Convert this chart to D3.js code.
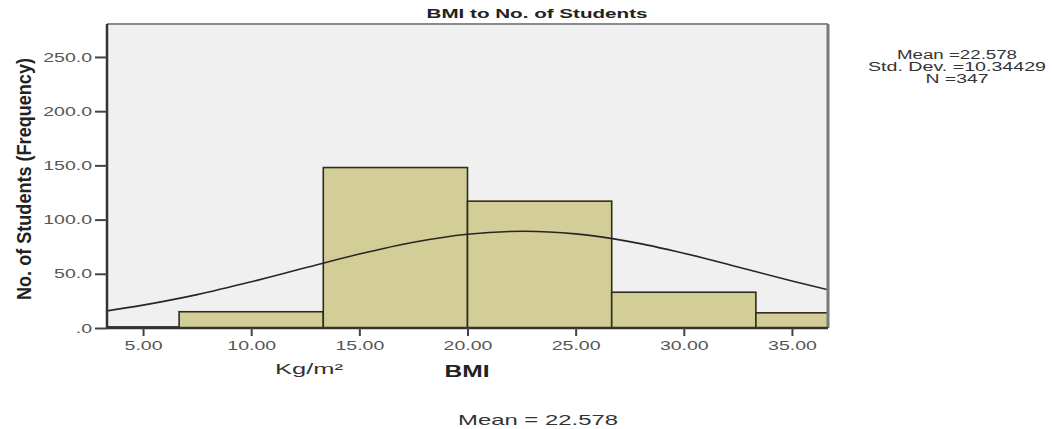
<!DOCTYPE html>
<html>
<head>
<meta charset="utf-8">
<script src="https://cdn.jsdelivr.net/npm/d3@7"></script>
<style>
  body { margin: 0; background: #fff; }
  text { font-family: Arial, "Liberation Sans", sans-serif; }
</style>
</head>
<body>
<div id="chart"></div>
<script>
// histogram bins (BMI) and counts
const binEdges = [0, 6.667, 13.333, 20, 26.667, 33.333, 40];
const binCounts = [1, 15, 148, 117, 33, 14];

// fitted normal curve
const curveX = [3.33, 5, 7.5, 10, 12.5, 15, 17.5, 20, 22.58, 25, 27.5, 30, 32.5, 35, 36.67];
const curveY = [15.8, 21.1, 30.8, 42.6, 55.5, 68.2, 79.1, 86.5, 89.2, 86.8, 79.7, 69.0, 56.3, 43.4, 35.3];

const xTicks = [5, 10, 15, 20, 25, 30, 35];
const yTicks = [0, 50, 100, 150, 200, 250];

const statLines = ['Mean =22.578', 'Std. Dev. =10.34429', 'N =347'];

const width = 1052, height = 429;
const plot = { left: 107, top: 24, right: 828, bottom: 328 };

const svg = d3.select('#chart')
    .append('svg')
    .attr('width', width)
    .attr('height', height);

const x = d3.scaleLinear().domain([3.333, 36.667]).range([plot.left, plot.right]);
const y = d3.scaleLinear().domain([0, 280.4]).range([plot.bottom, plot.top]);

// the source image is stretched sideways, so the text is too
function stretch(sel, k) {
    sel.each(function () {
        const w = this.getComputedTextLength();
        d3.select(this).attr('textLength', w * k).attr('lengthAdjust', 'spacingAndGlyphs');
    });
}

svg.append('defs').append('clipPath')
    .attr('id', 'plotClip')
    .append('rect')
    .attr('x', plot.left)
    .attr('y', plot.top)
    .attr('width', plot.right - plot.left)
    .attr('height', plot.bottom - plot.top);

svg.append('rect')
    .attr('x', plot.left)
    .attr('y', plot.top)
    .attr('width', plot.right - plot.left)
    .attr('height', plot.bottom - plot.top)
    .attr('fill', '#f0f0f0');

const bins = binCounts.map((c, i) => ({ x0: binEdges[i], x1: binEdges[i + 1], count: c }));

const g = svg.append('g').attr('clip-path', 'url(#plotClip)');

g.selectAll('.bar')
    .data(bins)
    .enter()
    .append('rect')
    .attr('class', 'bar')
    .attr('x', d => x(d.x0))
    .attr('y', d => y(d.count))
    .attr('width', d => x(d.x1) - x(d.x0))
    .attr('height', d => y(0) - y(d.count))
    .attr('fill', '#d3ce97')
    .attr('stroke', '#2e2c1e')
    .attr('stroke-width', 1.6);

const line = d3.line()
    .x((d, i) => x(curveX[i]))
    .y(d => y(d))
    .curve(d3.curveCatmullRom);

g.append('path')
    .datum(curveY)
    .attr('d', line)
    .attr('fill', 'none')
    .attr('stroke', '#262626')
    .attr('stroke-width', 1.6);

// frame
svg.append('line')
    .attr('x1', plot.left).attr('x2', plot.right)
    .attr('y1', plot.top).attr('y2', plot.top)
    .attr('stroke', '#8a8a8a').attr('stroke-width', 2);
svg.append('line')
    .attr('x1', plot.right).attr('x2', plot.right)
    .attr('y1', plot.top).attr('y2', plot.bottom)
    .attr('stroke', '#7a7a7a').attr('stroke-width', 3);

// axes
const yAxis = svg.append('g')
    .attr('transform', `translate(${plot.left},0)`)
    .call(d3.axisLeft(y)
        .tickValues(yTicks)
        .tickSize(12)
        .tickPadding(3)
        .tickFormat(d => d === 0 ? '.0' : d.toFixed(1)));

const xAxis = svg.append('g')
    .attr('transform', `translate(0,${plot.bottom})`)
    .call(d3.axisBottom(x)
        .tickValues(xTicks)
        .tickSize(8)
        .tickPadding(5)
        .tickFormat(d => d.toFixed(2)));

[yAxis, xAxis].forEach(a => {
    a.select('.domain').attr('stroke', '#333').attr('stroke-width', 2.5);
    a.selectAll('.tick line').attr('stroke', '#444').attr('stroke-width', 2);
    a.selectAll('.tick text')
        .attr('fill', '#555')
        .attr('font-size', 13)
        .style('font-family', 'Arial, "Liberation Sans", sans-serif');
});
yAxis.select('.domain').attr('d', `M0,${plot.top}V${plot.bottom}`);
xAxis.select('.domain').attr('d', `M${plot.left},0H${plot.right}`);
stretch(yAxis.selectAll('.tick text'), 1.5);
stretch(xAxis.selectAll('.tick text'), 1.5);

// titles
svg.append('text')
    .attr('x', 537)
    .attr('y', 18)
    .attr('text-anchor', 'middle')
    .attr('font-size', 13)
    .attr('font-weight', 'bold')
    .attr('fill', '#222')
    .attr('textLength', 221)
    .attr('lengthAdjust', 'spacingAndGlyphs')
    .text('BMI to No. of Students');

svg.append('text')
    .attr('transform', 'translate(31,179) rotate(-90) scale(1,1.5)')
    .attr('text-anchor', 'middle')
    .attr('font-size', 14)
    .attr('font-weight', 'bold')
    .attr('fill', '#222')
    .attr('textLength', 242)
    .attr('lengthAdjust', 'spacingAndGlyphs')
    .text('No. of Students (Frequency)');

svg.append('text')
    .attr('x', 309)
    .attr('y', 374)
    .attr('text-anchor', 'middle')
    .attr('font-size', 14)
    .attr('fill', '#333')
    .attr('textLength', 68)
    .attr('lengthAdjust', 'spacingAndGlyphs')
    .text('Kg/m²');

svg.append('text')
    .attr('x', 467)
    .attr('y', 377)
    .attr('text-anchor', 'middle')
    .attr('font-size', 16)
    .attr('font-weight', 'bold')
    .attr('fill', '#222')
    .attr('textLength', 45)
    .attr('lengthAdjust', 'spacingAndGlyphs')
    .text('BMI');

svg.append('text')
    .attr('x', 538)
    .attr('y', 425)
    .attr('text-anchor', 'middle')
    .attr('font-size', 15)
    .attr('fill', '#333')
    .attr('textLength', 160)
    .attr('lengthAdjust', 'spacingAndGlyphs')
    .text('Mean = 22.578');

const statWidths = [120, 178, 63];
svg.selectAll('.stat')
    .data(statLines)
    .enter()
    .append('text')
    .attr('class', 'stat')
    .attr('x', 957)
    .attr('y', (d, i) => 59 + i * 12)
    .attr('text-anchor', 'middle')
    .attr('font-size', 12)
    .attr('fill', '#333')
    .attr('textLength', (d, i) => statWidths[i])
    .attr('lengthAdjust', 'spacingAndGlyphs')
    .text(d => d);
</script>
</body>
</html>
